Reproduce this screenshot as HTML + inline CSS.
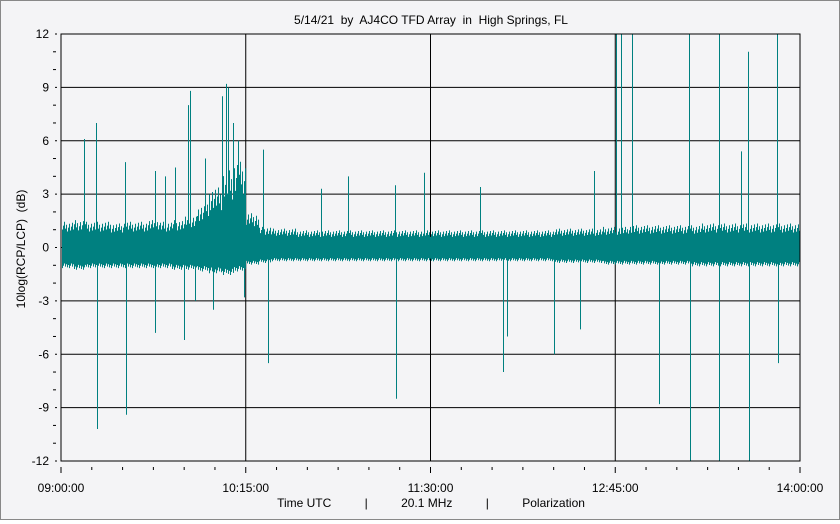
<!DOCTYPE html>
<html><head><meta charset="utf-8"><style>
body{margin:0;background:#fff}
#wrap{position:relative;width:838px;height:518px;border:1px solid #888;background:#f4f4f6}
svg text{font-family:"Liberation Sans",sans-serif;font-size:12px;fill:#000;white-space:pre}
</style></head><body>
<div id="wrap">
<svg id="chart" width="838" height="518"></svg>
</div>
<script>
// data (minutes after 09:00), 5-minute bins
const binUpper=[1.5,1.6,1.5,1.5,1.4,1.5,1.5,1.6,1.5,1.6,1.8,2.5,3.5,4.5,5.0,2.0,1.2,1.1,1.1,1.0,1.0,1.0,1.0,1.0,1.0,1.0,1.0,1.0,1.0,1.0,1.0,1.0,1.0,1.0,1.0,1.0,1.0,1.0,1.0,1.0,1.1,1.1,1.1,1.1,1.2,1.2,1.3,1.3,1.3,1.3,1.3,1.3,1.4,1.4,1.4,1.4,1.4,1.4,1.4,1.4];
const binLower=[-1.2,-1.3,-1.2,-1.2,-1.2,-1.2,-1.2,-1.2,-1.2,-1.3,-1.3,-1.4,-1.5,-1.6,-1.4,-1.0,-0.9,-0.8,-0.8,-0.8,-0.8,-0.8,-0.8,-0.8,-0.8,-0.8,-0.8,-0.8,-0.8,-0.8,-0.8,-0.8,-0.8,-0.8,-0.8,-0.8,-0.8,-0.8,-0.8,-0.8,-0.9,-0.9,-0.9,-0.9,-1.0,-1.0,-1.0,-1.0,-1.0,-1.0,-1.0,-1.1,-1.1,-1.1,-1.1,-1.1,-1.1,-1.1,-1.1,-1.1];
const spikeTimes=[9.3,14.2,14.6,26,26.3,38,38.3,42.2,46.3,50,51.6,52.4,54.4,58.5,61.7,65.4,67,67.8,70,71.9,74.3,82,84,105.5,116.5,135.6,135.9,147.4,170,179.4,181,200,210.7,216.4,225.3,227.3,231.7,242.7,254.9,255.2,267,267.3,276,278.9,279.2,290.7,291.1];
const spikeValues=[6.1,7.0,-10.2,4.8,-9.4,4.3,-4.8,4.0,4.5,-5.2,8.0,8.8,-3,5,-3.5,8.5,9.2,9,7,6,-2.8,5.5,-6.5,3.3,4,3.5,-8.5,4.2,3.4,-7,-5,-6,-4.6,4.3,12,12,12,-8.8,12,-12,12,-12,5.4,11,-12,12,-6.5];
const yTicks=[-12,-9,-6,-3,0,3,6,9,12];
const xTickLabels=["09:00:00","10:15:00","11:30:00","12:45:00","14:00:00"];
const xTickMinutes=[0,75,150,225,300];

const L=60,T=33,R=799,B=460;
const svg=document.getElementById('chart');
const NS='http://www.w3.org/2000/svg';
const xs=m=>L+(m/300)*(R-L);
const ys=v=>T+(12-v)/24*(B-T);
function el(t,a,p){const e=document.createElementNS(NS,t);for(const k in a)e.setAttribute(k,a[k]);(p||svg).appendChild(e);return e;}

yTicks.forEach(v=>{
  const g=el('line',{x1:L,x2:R,y1:ys(v),y2:ys(v),stroke:'#000','stroke-width':1});
  
  
  const t=el('text',{x:L-12,y:ys(v)+4,'text-anchor':'end'});t.textContent=v;
  
  
  el('line',{x1:L-6,x2:L-4,y1:ys(v),y2:ys(v),stroke:'#000'});
});
for(let v=-12;v<=12;v++){if(v%3)el('line',{x1:L-8,x2:L-5,y1:ys(v),y2:ys(v),stroke:'#000'});}
xTickMinutes.forEach((m,i)=>{
  const g=el('line',{x1:xs(m),x2:xs(m),y1:T,y2:B,stroke:'#000'});
  
  
  const t=el('text',{x:xs(m),y:B+31,'text-anchor':'middle'});t.textContent=xTickLabels[i];
  
  
});
for(let m=0;m<=300;m+=12.5){el('line',{x1:xs(m),x2:xs(m),y1:B+6,y2:B+(m%75?9:12),stroke:'#000'});}

let d='';
for(let px=L+1;px<R;px++){
  const m=(px-L)/(R-L)*300;const bi=Math.min(binUpper.length-1,Math.floor(m/5));
  const j=((px*37)%11)/11;
  const up=binUpper[bi]*(0.6+0.4*j), lo=binLower[bi]*(0.75+0.25*((px*53)%7)/7);
  d+=`M${px+.5} ${ys(up)}V${ys(lo)}`;
}
const band=el('path',{d,stroke:'#008080','stroke-width':1,fill:'none'});


spikeTimes.forEach((m,i)=>{
  const x=Math.round(xs(m))+.5;
  const s=el('line',{x1:x,x2:x,y1:ys(0),y2:ys(Math.max(-12,Math.min(12,spikeValues[i]))),stroke:'#008080','stroke-width':1});
  
  
});
el('rect',{x:L,y:T,width:R-L,height:B-T,fill:'none',stroke:'#000'});

const title=el('text',{x:430,y:23,'text-anchor':'middle'});title.textContent='5/14/21  by  AJ4CO TFD Array  in  High Springs, FL';


const xt=el('text',{x:430,y:506,'text-anchor':'middle'});xt.textContent='Time UTC          |          20.1 MHz          |          Polarization';


const yt=el('text',{x:0,y:0,'text-anchor':'middle',transform:'translate(24,248) rotate(-90)'});yt.textContent='10log(RCP/LCP)  (dB)';


</script>
</body></html>
